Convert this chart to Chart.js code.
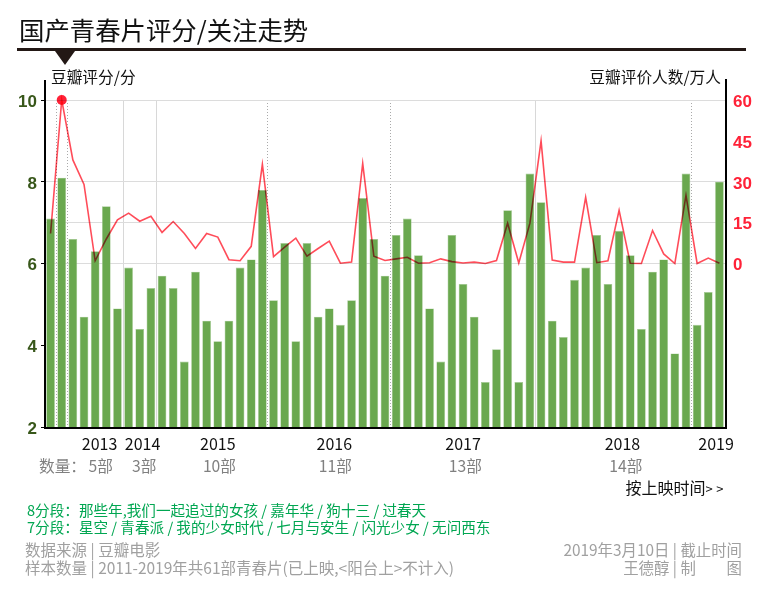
<!DOCTYPE html>
<html><head><meta charset="utf-8">
<script src="https://cdn.jsdelivr.net/npm/chart.js@4/dist/chart.umd.min.js"></script>
<style>
html,body{margin:0;padding:0;background:#fff;width:770px;height:591px;overflow:hidden}
#w{position:relative;width:770px;height:591px;font-family:"Noto Sans CJK SC","Noto Sans",sans-serif}
canvas{position:absolute;left:0;top:0}
.t{position:absolute;white-space:pre;line-height:1}
#rule{position:absolute;left:17px;top:48px;width:729px;height:3px;background:#231815}
#tri{position:absolute;left:55px;top:51px;width:0;height:0;border-left:10px solid transparent;border-right:10px solid transparent;border-top:14px solid #231815}
</style></head><body>
<div id="w">
<canvas id="c" width="770" height="591"></canvas>
<div class="t" style="left:19px;top:17px;font-size:25.4px;color:#111">国产青春片评分/关注走势</div>
<div class="t" style="left:51px;top:69px;font-size:15.7px;color:#111">豆瓣评分/分</div>
<div class="t" style="right:49px;top:69px;font-size:15.7px;color:#111">豆瓣评价人数/万人</div>
<div id="rule"></div><div id="tri"></div>
<div class="t" style="left:39px;top:458px;font-size:15.7px;color:#808080">数量：</div>
<div class="t" style="right:43px;top:479px;font-size:16px;color:#111">按上映时间<span style="letter-spacing:3.5px;font-size:13px">&gt;&gt;</span></div>
<div class="t" style="left:27px;top:503px;font-size:14.6px;color:#00a651">8分段：那些年,我们一起追过的女孩 / 嘉年华 / 狗十三 / 过春天</div>
<div class="t" style="left:27px;top:520px;font-size:14.6px;color:#00a651">7分段：星空 / 青春派 / 我的少女时代 / 七月与安生 / 闪光少女 / 无问西东</div>
<div class="t" style="left:25px;top:542px;font-size:15.5px;color:#a0a0a0">数据来源 | 豆瓣电影</div>
<div class="t" style="left:25px;top:560px;font-size:15.5px;color:#a0a0a0">样本数量 | 2011-2019年共61部青春片(已上映,&lt;阳台上&gt;不计入)</div>
<div class="t" style="right:28px;top:542px;font-size:15.4px;color:#a0a0a0">2019年3月10日 | 截止时间</div>
<div class="t" style="right:28px;top:560px;font-size:15.4px;color:#a0a0a0">王德醇 | 制　　图</div>
</div>
<script>
const scores=[7.1,8.1,6.6,4.7,6.3,7.4,4.9,5.9,4.4,5.4,5.7,5.4,3.6,5.8,4.6,4.1,4.6,5.9,6.1,7.8,5.1,6.5,4.1,6.5,4.7,4.9,4.5,5.1,7.6,6.6,5.7,6.7,7.1,6.2,4.9,3.6,6.7,5.5,4.7,3.1,3.9,7.3,3.1,8.2,7.5,4.6,4.2,5.6,5.9,6.7,5.5,6.8,6.2,4.4,5.8,6.1,3.8,8.2,4.5,5.3,8.0];
const raters=[11,60,38,29,1,9,16,18.5,15.5,17.3,11.4,15.4,11,5.5,11,9.7,1.4,1,6.3,36.4,2.5,6,9.3,2.7,5.5,8.2,0.1,0.5,36.7,2.7,1.1,1.7,2.3,0.1,0.3,1.7,0.7,0.2,0.5,0,1.1,14.8,0.2,14.8,45,1.3,0.5,0.5,24.3,0.3,1,19.5,0.1,0,12.1,3.5,0,25,0,2,0.1];
const films=scores.map((_,i)=>i+1);
const leftTicks=[2,4,6,8,10];
const rightTicks=[0,15,30,45,60];
const rightGridTicks=[0,15,30,60];
const years=['2013','2014','2015','2016','2017','2018','2019'];
const yearAt=[4.4,8.25,15,25.45,37,51.3,59.7];
const counts=['5部','3部','10部','11部','13部','14部'];
const countAt=[4.5,8.4,15.15,25.55,37.2,51.6];
const solidGaps=[7,10,44];
const dottedGaps=[1,2,20,31,58];
const peak=1;
const ff='"Noto Sans CJK SC","Noto Sans",sans-serif';
const blend={id:'blend',
 beforeDatasetDraw(ch,a){if(a.meta.type==='line'){ch.ctx.save();ch.ctx.globalCompositeOperation='multiply';}},
 afterDatasetDraw(ch,a){if(a.meta.type==='line'){ch.ctx.restore();}}};
const frame={id:'frame',afterDraw(ch){const {ctx,chartArea:c}=ch;ctx.save();ctx.strokeStyle='#000';ctx.lineWidth=2;
 ctx.beginPath();ctx.moveTo(c.left,c.top-20);ctx.lineTo(c.left,c.bottom+1);ctx.lineTo(c.right+1,c.bottom+1);ctx.lineTo(c.right+1,c.top-21);ctx.stroke();ctx.restore();}};
const labelAxis=(weight,at,names,color,pad,h,size)=>({type:'linear',position:'bottom',display:true,weight,min:-0.5,max:60.5,
 grid:{display:false,drawTicks:false},border:{display:false},
 afterBuildTicks:s=>{s.ticks=at.map(v=>({value:v}));},
 afterFit:s=>{s.height=h;},
 ticks:{autoSkip:false,maxRotation:0,minRotation:0,padding:pad,color,font:{family:ff,size},callback:(v,i)=>names[i]}});
const lowered=v=>['',String(v)];
new Chart(document.getElementById('c'),{
 data:{labels:films,datasets:[
  {type:'line',data:raters,yAxisID:'y1',xAxisID:'x',order:0,clip:false,borderColor:'rgba(255,45,60,.85)',borderWidth:1.6,tension:0,
   pointRadius:c=>c.dataIndex===peak?5:0,pointBackgroundColor:'#ff2238',pointBorderWidth:0,pointHoverRadius:0},
  {type:'bar',data:scores,yAxisID:'y',xAxisID:'x',order:1,backgroundColor:'#6aa84f',borderColor:'#a4c993',borderWidth:{left:.6,right:.6,top:.6,bottom:0},categoryPercentage:1,barPercentage:.78}
 ]},
 plugins:[blend,frame],
 options:{responsive:false,animation:false,events:[],devicePixelRatio:1,
  layout:{padding:{left:0,right:0,top:100,bottom:0}},
  plugins:{legend:{display:false},tooltip:{enabled:false}},
  scales:{
   x:{type:'category',position:'bottom',weight:0,offset:true,border:{display:false,dash:c=>dottedGaps.includes(c.index)?[1,2]:[]},
      afterFit:s=>{s.height=0;},
      grid:{offset:true,drawTicks:false,lineWidth:1,color:c=>solidGaps.includes(c.index)?'#d8d8d8':dottedGaps.includes(c.index)?'#aaaaaa':'rgba(0,0,0,0)'},
      ticks:{display:false}},
   x2:labelAxis(1,yearAt,years,'#111',7,27,16),
   x3:labelAxis(2,countAt,counts,'#808080',3,137,15.7),
   y:{position:'left',min:2,max:10,afterBuildTicks:s=>{s.ticks=leftTicks.map(v=>({value:v}));},afterFit:s=>{s.width=45;},
      border:{display:false},grid:{drawOnChartArea:false,tickLength:4,tickColor:'#000'},
      ticks:{color:'#38571a',padding:4,callback:lowered,font:{family:'"Liberation Sans"',size:17,weight:'bold',lineHeight:.25}}},
   y1:{position:'right',min:-60,max:60,afterBuildTicks:s=>{s.ticks=rightTicks.map(v=>({value:v}));},afterFit:s=>{s.width=45;},
      border:{display:false},grid:{drawTicks:false,lineWidth:1,color:c=>rightGridTicks.includes(c.tick.value)?'#dcdcdc':'rgba(0,0,0,0)'},
      ticks:{color:'#ff2238',padding:8,callback:lowered,font:{family:'"Liberation Sans"',size:17,weight:'bold',lineHeight:.25}}}
  }}
});
</script>
</body></html>
